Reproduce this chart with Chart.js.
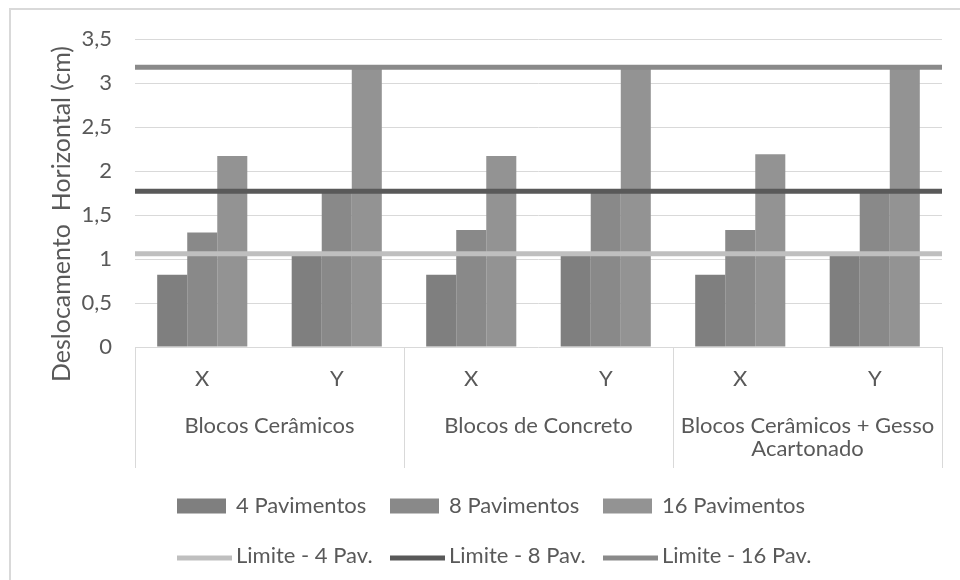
<!DOCTYPE html>
<html>
<head>
<meta charset="utf-8">
<script src="https://cdn.jsdelivr.net/npm/chart.js@4.4.1/dist/chart.umd.min.js"></script>
<style>
  html, body { margin: 0; padding: 0; background: #ffffff; }
  #wrap { position: relative; width: 960px; height: 580px; overflow: hidden; }
  #frame { position: absolute; left: 9px; top: 8px; width: 1000px; height: 1000px;
           border: 2px solid #d9d9d9; box-sizing: border-box; }
  #c { position: absolute; left: 0; top: 0; }
</style>
</head>
<body>
<div id="wrap">
  <div id="frame"></div>
  <canvas id="c" width="960" height="580"></canvas>
</div>
<script>
// Direction of each bar cluster, and the wall system each pair belongs to
const directions = ['X', 'Y', 'X', 'Y', 'X', 'Y'];
const systems = [
  ['Blocos Cerâmicos'],
  ['Blocos de Concreto'],
  ['Blocos Cerâmicos + Gesso', 'Acartonado']
];

// Horizontal displacement (cm) per building height
const pav4  = [0.82, 1.05, 0.82, 1.05, 0.82, 1.05];
const pav8  = [1.30, 1.76, 1.33, 1.76, 1.33, 1.76];
const pav16 = [2.17, 3.17, 2.17, 3.17, 2.19, 3.17];

// Displacement limits (cm)
const limit4  = 1.06;
const limit8  = 1.77;
const limit16 = 3.18;

const yTitle = 'Deslocamento  Horizontal (cm)';
const FONT = 'Lato, "Open Sans", sans-serif';
const FONT_SIZE = 22;
const TEXT = '#595959';

// clusters sit at x = 0..n-1 on a shared linear axis; limits span the full plot width
const xMin = -0.5;
const xMax = directions.length - 0.5;

function limitLine(label, value, color) {
  return {
    type: 'line', label, order: 1,
    data: [{ x: xMin, y: value }, { x: xMax, y: value }],
    borderColor: color, backgroundColor: color, borderWidth: 5,
    pointRadius: 0, fill: false, borderCapStyle: 'butt'
  };
}
function barSet(label, values, color) {
  return {
    type: 'bar', label, order: 2,
    data: values.map((v, i) => ({ x: i, y: v })),
    backgroundColor: color, borderWidth: 0,
    categoryPercentage: 0.67, barPercentage: 1.0
  };
}

// Draws the system labels under the X/Y ticks, the rotated axis title and the legend
const decorations = {
  id: 'decorations',
  afterDraw(chart) {
    const ctx = chart.ctx;
    const xs = chart.scales.x;
    const area = chart.chartArea;
    const px = v => xs.getPixelForValue(v);
    ctx.save();

    // separators between the wall systems
    const bounds = [];
    for (let g = 0; g <= systems.length; g++) bounds.push(px(2 * g - 0.5));
    ctx.strokeStyle = '#d9d9d9';
    ctx.lineWidth = 1;
    bounds.forEach(b => {
      const bx = Math.round(b) + 0.5;
      ctx.beginPath();
      ctx.moveTo(bx, area.bottom);
      ctx.lineTo(bx, 468);
      ctx.stroke();
    });

    // system names
    ctx.fillStyle = TEXT;
    ctx.font = FONT_SIZE + 'px ' + FONT;
    ctx.textAlign = 'center';
    ctx.textBaseline = 'middle';
    systems.forEach((lines, g) => {
      const cx = px(2 * g + 0.5);
      lines.forEach((t, k) => ctx.fillText(t, cx, 426 + k * 23));
    });

    // rotated y-axis title
    ctx.save();
    ctx.font = '25px ' + FONT;
    ctx.translate(62, 214);
    ctx.rotate(-Math.PI / 2);
    ctx.fillText(yTitle, 0, 0);
    ctx.restore();

    // legend: bars on the first row, limit lines on the second
    ctx.textAlign = 'left';
    chart.data.datasets.forEach((ds, i) => {
      const row = i < 3 ? 0 : 1;
      const col = i % 3;
      const x0 = 177 + col * 213;
      const y0 = row === 0 ? 506 : 556;
      if (ds.type === 'bar') {
        ctx.fillStyle = ds.backgroundColor;
        ctx.fillRect(x0, y0 - 7.5, 49, 15);
      } else {
        ctx.strokeStyle = ds.borderColor;
        ctx.lineWidth = 5;
        ctx.beginPath();
        ctx.moveTo(x0, y0 + 2);
        ctx.lineTo(x0 + 55, y0 + 2);
        ctx.stroke();
      }
      ctx.fillStyle = TEXT;
      ctx.fillText(ds.label, x0 + 59, y0);
    });
    ctx.restore();
  }
};

new Chart(document.getElementById('c'), {
  data: {
    datasets: [
      barSet('4 Pavimentos', pav4, '#7f7f7f'),
      barSet('8 Pavimentos', pav8, '#898989'),
      barSet('16 Pavimentos', pav16, '#939393'),
      limitLine('Limite - 4 Pav.', limit4, '#bfbfbf'),
      limitLine('Limite - 8 Pav.', limit8, '#595959'),
      limitLine('Limite - 16 Pav.', limit16, '#8a8a8a')
    ]
  },
  options: {
    responsive: false,
    animation: false,
    layout: { padding: { top: 39, left: 10, right: 18, bottom: 0 } },
    plugins: { legend: { display: false }, tooltip: { enabled: false } },
    scales: {
      x: {
        type: 'linear', min: xMin, max: xMax, offset: false,
        grid: { display: false }, border: { display: false },
        afterBuildTicks: s => { s.ticks = directions.map((_, i) => ({ value: i })); },
        ticks: {
          color: TEXT, font: { family: FONT, size: FONT_SIZE }, padding: 11,
          maxRotation: 0, autoSkip: false,
          callback: v => directions[v]
        },
        afterFit: s => { s.height = 233; }
      },
      y: {
        min: 0, max: 3.5,
        ticks: {
          stepSize: 0.5, color: TEXT, padding: 23,
          font: { family: FONT, size: FONT_SIZE },
          callback: v => String(v).replace('.', ',')
        },
        grid: { color: '#d9d9d9', lineWidth: 1, drawTicks: false },
        border: { display: false },
        afterFit: s => { s.width = 125; }
      }
    }
  },
  plugins: [decorations]
});
</script>
</body>
</html>
